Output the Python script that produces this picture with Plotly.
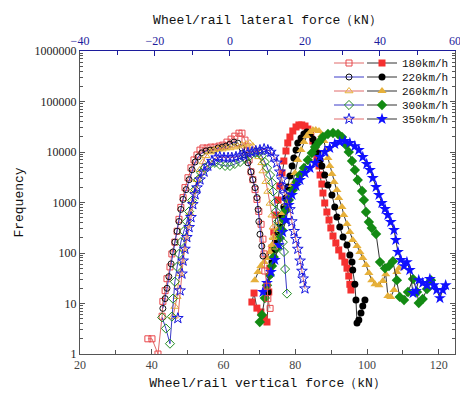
import plotly.graph_objects as go

# ---------------- data ----------------
speeds = ["180km/h", "220km/h", "260km/h", "300km/h", "350km/h"]

# Lateral force (top axis, open markers)
lat_180_x = [-21.9, -20.8, -19.2, -18.1, -17.9, -17.3, -16.8, -16.0, -15.5, -14.7, -14.1, -13.6, -13.1, -12.5, -12.0, -11.2, -10.4, -9.6, -8.8, -8.0, -7.2, -6.1, -5.1, -4.0, -2.9, -1.9, -0.8, 0.3, 1.3, 2.4, 3.2, 4.0, 4.5, 5.1, 5.6, 6.1, 6.7, 7.2, 7.7, 8.3, 8.8, 9.1, 9.3, 9.9, 10.1, 10.7]
lat_180_y = [2, 2, 1, 5.6, 11, 18, 31, 53, 96, 164, 270, 464, 800, 1250, 1970, 3090, 4850, 6970, 8730, 10900, 12000, 12000, 12500, 12500, 13100, 13700, 15700, 18000, 20600, 23600, 23600, 17200, 10900, 6970, 4050, 2830, 1800, 1150, 666, 370, 188, 96, 44, 22, 12.5, 8]

lat_220_x = [-17.9, -17.3, -16.8, -16.3, -15.7, -15.2, -14.7, -14.1, -13.6, -13.1, -12.5, -11.7, -10.9, -10.1, -9.3, -8.5, -7.5, -6.4, -5.3, -4.3, -3.2, -2.1, -1.1, 0.0, 1.1, 2.1, 3.2, 4.0, 4.8, 5.6, 6.1, 6.7, 7.2, 7.5, 7.7, 8.0, 8.5, 8.8]
lat_220_y = [8, 12.5, 20, 34, 61, 105, 164, 270, 420, 730, 1150, 1800, 2830, 4450, 6340, 8000, 9600, 10500, 10900, 10900, 12000, 12500, 13100, 14300, 15700, 15000, 12000, 8730, 6100, 4050, 2830, 1970, 1250, 730, 420, 235, 137, 87]

lat_260_x = [-15.2, -14.7, -14.1, -13.9, -13.3, -12.8, -12.3, -11.7, -11.2, -10.7, -10.1, -9.6, -8.8, -8.0, -7.2, -6.4, -5.3, -4.3, -3.2, -2.1, -1.1, 0.0, 1.1, 2.1, 3.2, 4.3, 5.3, 6.1, 6.9, 7.7, 8.5, 8.8, 9.6, 10.1, 10.7, 11.2, 11.5, 11.5, 11.7]
lat_260_y = [5.5, 8.7, 13.7, 21.6, 38.7, 69.6, 120, 205, 354, 610, 1050, 1720, 2830, 4450, 6340, 8400, 10000, 10900, 11400, 11400, 12000, 12000, 12500, 13100, 13700, 14300, 15000, 13100, 10900, 8000, 6100, 4200, 2580, 1650, 960, 560, 323, 205, 130]

lat_300_x = [-18.1, -17.1, -16.0, -15.5, -15.2, -14.7, -14.1, -13.6, -13.1, -12.3, -11.5, -10.9, -10.1, -9.3, -8.5, -7.7, -6.7, -5.3, -4.0, -2.7, -1.3, 0.0, 1.3, 2.7, 4.0, 5.3, 6.7, 7.7, 8.5, 9.3, 9.9, 10.7, 11.2, 11.5, 12.0, 12.3, 12.8, 13.3, 14.1, 14.4, 14.7, 15.2]
lat_300_y = [5.3, 3.2, 1.6, 5.5, 12.5, 27, 53, 96, 164, 270, 420, 665, 1100, 1800, 2830, 3870, 4850, 5800, 6100, 5600, 5300, 5300, 5800, 6340, 7300, 8400, 9600, 9600, 8400, 6340, 4850, 3500, 2470, 1650, 1000, 670, 420, 270, 164, 105, 48, 15.7]

lat_350_x = [-13.9, -13.3, -12.8, -12.5, -12.0, -11.5, -10.9, -10.4, -9.9, -9.3, -8.8, -8.0, -6.9, -5.9, -4.8, -3.7, -2.7, -1.6, -0.5, 0.5, 1.6, 2.7, 3.7, 4.8, 5.9, 6.9, 8.0, 9.1, 10.1, 10.9, 11.7, 12.5, 13.3, 13.9, 14.1, 14.7, 15.2, 16.0, 16.5, 17.1, 17.6, 18.1, 18.7, 19.2, 19.5, 20.0]
lat_350_y = [5.1, 18, 38.7, 70, 120, 205, 323, 510, 920, 1440, 1970, 2830, 4050, 5300, 6600, 7700, 8000, 7700, 7700, 7700, 8000, 8400, 8730, 9600, 10000, 10500, 10900, 11400, 10900, 10000, 8000, 6100, 4050, 2830, 1970, 1440, 1050, 730, 420, 270, 188, 120, 70, 44, 31, 19.7]

# Vertical force (bottom axis, filled markers)
ver_180_x = [67.9, 68.5, 69.3, 70.4, 71.3, 72.1, 72.6, 72.9, 73.5, 74.0, 74.6, 75.2, 75.7, 76.3, 76.8, 77.4, 77.9, 78.5, 79.3, 80.2, 81.0, 81.8, 82.7, 83.5, 84.3, 84.9, 85.5, 86.0, 86.6, 86.9, 87.4, 87.7, 88.2, 88.8, 89.4, 89.9, 90.5, 91.3, 92.1, 93.0, 93.8, 94.4, 94.9, 95.2, 95.5]
ver_180_y = [10.7, 16.1, 8.1, 6.8, 5.2, 4.3, 16.9, 50, 126, 260, 565, 1120, 2120, 3840, 6630, 10470, 15100, 19800, 26100, 31300, 34300, 34300, 32700, 28500, 22700, 16500, 10960, 7600, 5280, 3500, 2320, 1540, 977, 648, 450, 313, 217, 158, 115, 87, 66, 50, 35, 24, 18.5]

ver_220_x = [72.4, 72.9, 73.5, 74.0, 74.6, 75.2, 75.7, 76.3, 76.8, 77.4, 77.9, 78.5, 79.1, 79.6, 80.2, 80.7, 81.6, 82.4, 83.2, 84.1, 84.9, 85.5, 86.3, 86.9, 87.4, 88.2, 89.1, 90.2, 91.0, 91.6, 92.4, 93.3, 94.4, 95.2, 95.8, 96.0, 96.6, 96.9, 97.2, 97.7, 98.3, 98.8, 99.4]
ver_220_y = [16.9, 36.7, 66, 115, 181, 260, 375, 540, 815, 1230, 2030, 3350, 5280, 7600, 10960, 15100, 18900, 22700, 24900, 22700, 18100, 14400, 9550, 6950, 5280, 3500, 2220, 1410, 815, 516, 327, 207, 144, 91, 66, 46, 24, 11.7, 4.1, 4.7, 6.5, 8.9, 11.7]

ver_260_x = [68.7, 69.6, 70.4, 71.3, 72.1, 72.9, 73.5, 74.0, 74.9, 75.7, 76.5, 77.4, 78.2, 79.1, 79.9, 80.7, 81.6, 82.4, 83.2, 84.1, 84.9, 85.7, 86.6, 87.4, 88.0, 88.5, 89.1, 89.6, 90.2, 90.8, 91.6, 92.1, 93.0, 93.5, 94.4, 95.2, 96.0, 97.2, 98.0, 98.8, 99.7, 100.5, 101.3, 102.2, 103.3, 104.4, 105.2, 105.8, 106.6, 107.5, 108.3, 108.9]
ver_260_y = [29, 42, 55, 66, 80, 105, 144, 198, 285, 411, 620, 933, 1410, 2220, 3840, 6950, 10960, 15800, 20700, 24900, 27300, 27300, 26100, 21700, 16500, 10960, 7600, 5280, 3670, 2550, 1770, 1230, 815, 565, 375, 260, 181, 138, 105, 80, 58, 40, 29, 24, 23, 28, 38, 14, 13.5, 18.5, 42, 50]

ver_300_x = [70.1, 70.7, 71.5, 72.1, 72.9, 73.5, 74.0, 74.9, 75.7, 76.3, 76.8, 77.4, 78.2, 79.3, 80.4, 81.3, 82.4, 83.5, 84.6, 85.5, 86.6, 87.7, 89.1, 90.5, 91.9, 93.0, 94.1, 94.9, 95.8, 96.6, 97.4, 98.6, 99.1, 99.7, 100.5, 101.3, 102.5, 103.6, 105.0, 106.1, 107.2, 108.3, 109.1, 110.3, 111.4, 112.8, 113.9, 114.4, 115.5, 116.7, 117.8]
ver_300_y = [4.3, 5.9, 12.8, 23, 36.7, 55, 83, 126, 198, 285, 450, 710, 1120, 1770, 2550, 3500, 4820, 6950, 9550, 12560, 15800, 19800, 22700, 23800, 22700, 19800, 13800, 10000, 6630, 4400, 2790, 1690, 1120, 648, 411, 313, 238, 66, 50, 55, 69, 29, 13.5, 11.7, 16.9, 30.6, 16.9, 10.2, 12.3, 19.4, 29]

ver_350_x = [71.0, 72.1, 73.2, 74.3, 75.4, 76.5, 77.4, 78.2, 79.1, 80.2, 81.3, 82.7, 84.1, 85.5, 86.9, 88.2, 89.6, 91.0, 92.4, 93.8, 95.2, 96.6, 97.7, 98.8, 99.9, 100.8, 101.6, 102.5, 103.3, 104.1, 105.0, 105.8, 106.6, 107.5, 108.0, 108.6, 109.4, 110.3, 111.1, 111.9, 112.8, 113.6, 114.4, 115.5, 116.7, 117.5, 118.6, 119.4, 120.3, 121.1, 121.9]
ver_350_y = [16.9, 25.5, 42, 73, 144, 260, 450, 892, 1410, 2120, 2790, 3840, 4820, 6060, 7960, 10000, 12000, 14400, 15800, 16500, 15100, 13100, 10960, 7960, 5790, 4400, 3060, 2030, 1410, 977, 743, 565, 411, 285, 181, 105, 73, 55, 66, 46, 16.1, 17.7, 29, 25.5, 23, 30.6, 23, 18.5, 12.8, 18.5, 23]

y_tick_vals = [1, 10, 100, 1000, 10000, 100000, 1000000]
y_tick_text = ["1", "10", "100", "1000", "10000", "100000", "1000000"]

# ---------------- styles ----------------
open_sets = [(lat_180_x, lat_180_y), (lat_220_x, lat_220_y), (lat_260_x, lat_260_y),
             (lat_300_x, lat_300_y), (lat_350_x, lat_350_y)]
fill_sets = [(ver_180_x, ver_180_y), (ver_220_x, ver_220_y), (ver_260_x, ver_260_y),
             (ver_300_x, ver_300_y), (ver_350_x, ver_350_y)]

open_symbols = ["square-open", "circle-open", "triangle-up-open", "diamond-open", "star-open"]
fill_symbols = ["square", "circle", "triangle-up", "diamond", "star"]
marker_colors = ["#e8474a", "#111111", "#e6b23a", "#1f8a1f", "#1515e0"]
fill_colors = ["#f5302f", "#000000", "#e6b03a", "#138a13", "#1010ff"]
open_line_colors = ["#e06a6a", "#3a3ac8", "#e06a6a", "#3a3ac8", "#e06a6a"]
sizes = [6, 6, 7, 7, 8]

MONO = "Liberation Mono"
fig = go.Figure()

row_px = [63, 77, 91, 105, 119]
plot_top, plot_h, plot_left, plot_w = 51, 303, 80, 375

legend_layout = {}
for i in range(5):
    x, y = open_sets[i]
    lname = "legend" if i == 0 else f"legend{i + 1}"
    fig.add_trace(go.Scatter(
        x=x, y=y, xaxis="x2", yaxis="y", mode="lines+markers", name=" ",
        legend=lname,
        line=dict(color=open_line_colors[i], width=1),
        marker=dict(symbol=open_symbols[i], size=sizes[i], color=marker_colors[i],
                    line=dict(width=1, color=marker_colors[i])),
    ))
    legend_layout[lname] = dict(
        x=(329 - plot_left) / plot_w, xanchor="left",
        y=1 - (row_px[i] - plot_top) / plot_h, yanchor="middle",
        bgcolor="rgba(0,0,0,0)", borderwidth=0,
        font=dict(family=MONO, size=11, color="#111"),
    )

for i in range(5):
    x, y = fill_sets[i]
    lname = f"legend{i + 6}"
    fig.add_trace(go.Scatter(
        x=x, y=y, xaxis="x", yaxis="y", mode="lines+markers", name=speeds[i],
        legend=lname,
        line=dict(color="#333333", width=1),
        marker=dict(symbol=fill_symbols[i], size=sizes[i] + 1, color=fill_colors[i],
                    line=dict(width=0)),
    ))
    legend_layout[lname] = dict(
        x=(362 - plot_left) / plot_w, xanchor="left",
        y=1 - (row_px[i] - plot_top) / plot_h, yanchor="middle",
        bgcolor="rgba(0,0,0,0)", borderwidth=0,
        font=dict(family=MONO, size=11, color="#111"),
    )

fig.update_layout(
    width=460, height=406,
    margin=dict(l=80, r=5, t=51, b=52, autoexpand=False),
    paper_bgcolor="white", plot_bgcolor="white",
    font=dict(family=MONO, size=11, color="#222"),
    showlegend=True,
    xaxis=dict(
        range=[20, 124.5], dtick=20, tick0=20,
        ticks="inside", ticklen=5, tickcolor="#555", tickwidth=1,
        minor=dict(dtick=10, ticks="inside", ticklen=4, tickcolor="#555", showgrid=False),
        showline=True, linecolor="#555", linewidth=1, mirror=False,
        showgrid=False, zeroline=False,
        tickfont=dict(family="Liberation Serif", size=12, color="#444"),
        title=dict(text="Wheel/rail vertical force（kN）", standoff=6,
                   font=dict(family=MONO, size=13, color="#111")),
    ),
    xaxis2=dict(
        range=[-40, 60.02], dtick=20, tick0=-40,
        overlaying="x", side="top", anchor="y",
        ticks="inside", ticklen=5, tickcolor="#1c1c9c", tickwidth=1,
        minor=dict(dtick=10, ticks="inside", ticklen=4, tickcolor="#1c1c9c", showgrid=False),
        showline=True, linecolor="#1c1c9c", linewidth=1,
        showgrid=False, zeroline=False,
        ticklabeloverflow="allow", automargin=False,
        tickfont=dict(family="Liberation Serif", size=12, color="#1c1c9c"),
        title=dict(text="Wheel/rail lateral force（kN）", standoff=6,
                   font=dict(family=MONO, size=13, color="#111")),
    ),
    yaxis=dict(
        type="log", range=[0, 6],
        tickmode="array", tickvals=y_tick_vals, ticktext=y_tick_text,
        ticks="inside", ticklen=5, tickcolor="#555", tickwidth=1,
        minor=dict(dtick="D1", ticks="inside", ticklen=3, tickcolor="#555", showgrid=False),
        showline=True, linecolor="#555", linewidth=1, mirror="ticks",
        showgrid=False, zeroline=False,
        tickfont=dict(family="Liberation Serif", size=12, color="#222"),
        title=dict(text="Frequency", standoff=8,
                   font=dict(family=MONO, size=13, color="#111")),
    ),
    **legend_layout,
)

fig.write_html("out.html")
